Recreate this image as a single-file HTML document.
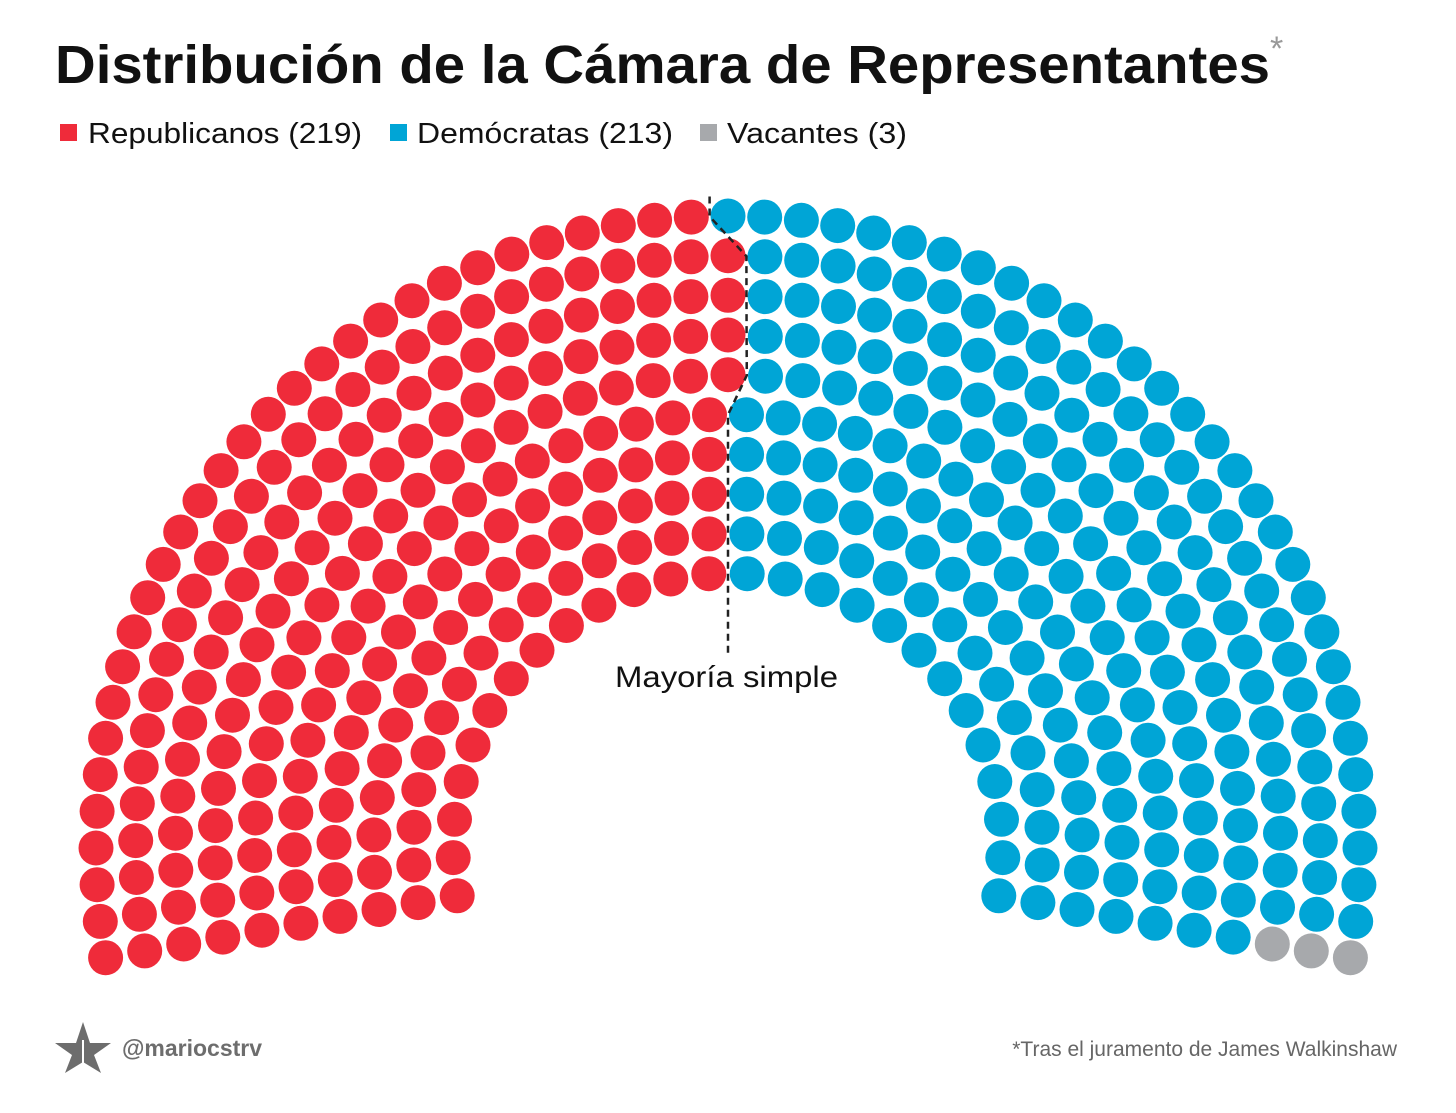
<!DOCTYPE html>
<html><head><meta charset="utf-8"><style>
html,body{margin:0;padding:0;background:#fff;}
svg{display:block;font-family:"Liberation Sans",sans-serif;}
</style></head><body>
<svg id="chart" width="1456" height="1113" viewBox="0 0 1456 1113">
<text x="55" y="83" font-size="54" font-weight="bold" fill="#111" textLength="1215" lengthAdjust="spacingAndGlyphs">Distribución de la Cámara de Representantes</text>
<text x="1270" y="60" font-size="34" fill="#999">*</text>
<g>
<rect x="60" y="124" width="17" height="17" fill="#ef2b3a"/>
<text x="88" y="143" font-size="29" fill="#111" textLength="274" lengthAdjust="spacingAndGlyphs">Republicanos (219)</text>
<rect x="390" y="124" width="17" height="17" fill="#00a5d6"/>
<text x="417" y="143" font-size="29" fill="#111" textLength="256" lengthAdjust="spacingAndGlyphs">Demócratas (213)</text>
<rect x="700" y="124" width="17" height="17" fill="#a7a9ac"/>
<text x="727" y="143" font-size="29" fill="#111" textLength="180" lengthAdjust="spacingAndGlyphs">Vacantes (3)</text>
</g>
<g id="seats"></g>
<path id="majority" fill="none" stroke="#222" stroke-width="2.5" stroke-dasharray="7,5"/>
<text x="615" y="687" font-size="30" fill="#111" textLength="223" lengthAdjust="spacingAndGlyphs">Mayoría simple</text>
<g>
<polygon points="83,1022 90,1043 111,1043 94,1055 101,1073 83,1062 65,1073 72,1055 55,1043 76,1043" fill="#6d6d6d"/>
<rect x="82" y="1040" width="2" height="30" fill="#fff"/>
</g>
<text x="122" y="1056" font-size="23" font-weight="bold" fill="#6d6d6d">@mariocstrv</text>
<text x="1397" y="1056" font-size="21" fill="#666" text-anchor="end">*Tras el juramento de James Walkinshaw</text>
</svg>
<script>
const parties = ["Republicanos", "Demócratas", "Vacantes"];
const seatCounts = [219, 213, 3];
const partyColors = ["#ef2b3a", "#00a5d6", "#a7a9ac"];
const rowCounts = [26, 30, 34, 38, 42, 45, 49, 53, 57, 61];

const cx = 728, cy = 848, rInner = 275, rOuter = 632, dotR = 17.5;
const a0 = -10 * Math.PI / 180, a1 = 190 * Math.PI / 180;
const nRows = rowCounts.length;
function rowRadius(i){ return rInner + (rOuter - rInner) * i / (nRows - 1); }
const seats = [];
rowCounts.forEach((n, i) => {
  const r = rowRadius(i);
  for (let k = 0; k < n; k++) {
    const ang = a1 - (a1 - a0) * k / (n - 1);
    seats.push({row: i, ang: ang, key: Math.round(ang * 1e6), x: cx + r * Math.cos(ang), y: cy - r * Math.sin(ang)});
  }
});
seats.sort((a, b) => (b.key - a.key) || (a.row - b.row));
const g = document.getElementById('seats');
let idx = 0;
const lastRed = {}, firstBlue = {};
seatCounts.forEach((c, p) => {
  for (let k = 0; k < c; k++, idx++) {
    const s = seats[idx];
    if (!s) continue;
    if (p === 0) lastRed[s.row] = s;
    if (p === 1 && !firstBlue[s.row]) firstBlue[s.row] = s;
    const el = document.createElementNS('http://www.w3.org/2000/svg', 'circle');
    el.setAttribute('cx', s.x.toFixed(1));
    el.setAttribute('cy', s.y.toFixed(1));
    el.setAttribute('r', dotR);
    el.setAttribute('fill', partyColors[p]);
    
    
    g.appendChild(el);
  }
});
const pts = [];
for (let i = nRows - 1; i >= 0; i--) {
  const a = lastRed[i], b = firstBlue[i];
  if (a && b) pts.push([(a.x + b.x) / 2, (a.y + b.y) / 2]);
}
if (pts.length) {
  const top = [pts[0][0], pts[0][1] - 20];
  let d = 'M' + top[0].toFixed(1) + ',' + top[1].toFixed(1);
  pts.forEach(p => { d += ' L' + p[0].toFixed(1) + ',' + p[1].toFixed(1); });
  const last = pts[pts.length - 1];
  d += ' L' + last[0].toFixed(1) + ',655';
  document.getElementById('majority').setAttribute('d', d);
}
</script>
</body></html>
